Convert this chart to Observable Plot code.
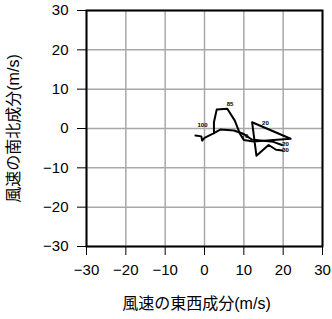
<!DOCTYPE html>
<html><head><meta charset="utf-8">
<script src="https://cdn.jsdelivr.net/npm/d3@7"></script>
<script src="https://cdn.jsdelivr.net/npm/@observablehq/plot@0.6"></script>
<style>body{margin:0;background:#fff}</style>
</head><body><div id="chart"></div>
<script>
const ticks = [-30, -20, -10, 0, 10, 20, 30];
const xLabel = "風速の東西成分(m/s)";
const yLabel = "風速の南北成分(m/s)";
// line 1
const u1 = [-2.3, -0.8, -0.6, 0.0, 2.4, 2.4, 3.1, 5.8, 7.7, 9.0, 10.0, 12.4, 21.9, 12.1, 13.2, 16.3, 18.2, 19.8];
const v1 = [-1.8, -2.0, -3.1, -2.4, -1.2, 1.6, 4.8, 5.0, 2.0, -1.3, -2.9, -3.3, -2.6, 1.6, -6.9, -4.2, -5.4, -5.6];
// line 2
const u2 = [2.4, 4.1, 7.5, 10.0, 12.0, 17.5, 19.7];
const v2 = [-1.2, -0.25, -0.5, -1.4, -2.8, -3.4, -4.2];
// level labels
const labText = ["100", "85", "70", "20", "20", "30"];
const labU = [-0.5, 6.5, 10.3, 15.5, 20.6, 20.6];
const labV = [0.8, 6.1, -1.8, 1.3, -4.0, -5.5];

const pts = [
  ...u1.map((u, i) => ({u, v: v1[i], s: "a"})),
  ...u2.map((u, i) => ({u, v: v2[i], s: "b"}))
];
const labs = labText.map((t, i) => ({t, u: labU[i], v: labV[i]}));
const font = "'Liberation Sans', 'Noto Sans CJK JP', sans-serif";

const chart = Plot.plot({
  width: 332, height: 319,
  marginLeft: 86, marginRight: 10, marginTop: 10, marginBottom: 73,
  style: {fontFamily: font, background: "#fff"},
  x: {domain: [-30, 30]},
  y: {domain: [-30, 30]},
  marks: [
    Plot.gridX(ticks, {stroke: "#a8a8a8", strokeOpacity: 1, strokeWidth: 1.5}),
    Plot.gridY(ticks, {stroke: "#a8a8a8", strokeOpacity: 1, strokeWidth: 1.5}),
    Plot.axisX(ticks, {tickSize: 9, tickPadding: 9, fontSize: 15, label: null, tickFormat: d => d < 0 ? "−" + (-d) : String(d)}),
    Plot.axisY(ticks, {tickSize: 9, tickPadding: 9, fontSize: 15, label: null, tickFormat: d => d < 0 ? "−" + (-d) : String(d)}),
    Plot.line(pts, {x: "u", y: "v", z: "s", stroke: "#000", strokeWidth: 2, curve: "linear"}),
    Plot.text(labs, {x: "u", y: "v", text: "t", fontSize: 6, fontWeight: "bold", fill: "#000"}),
    Plot.frame({stroke: "#000", strokeWidth: 2}),
    Plot.text([xLabel], {frameAnchor: "bottom", textAnchor: "middle", dy: 62, dx: -8, fontSize: 16, fill: "#000"}),
    Plot.text([yLabel], {frameAnchor: "left", textAnchor: "middle", dx: -73, rotate: -90, fontSize: 16, fill: "#000"})
  ]
});
document.getElementById("chart").appendChild(chart);
</script></body></html>
